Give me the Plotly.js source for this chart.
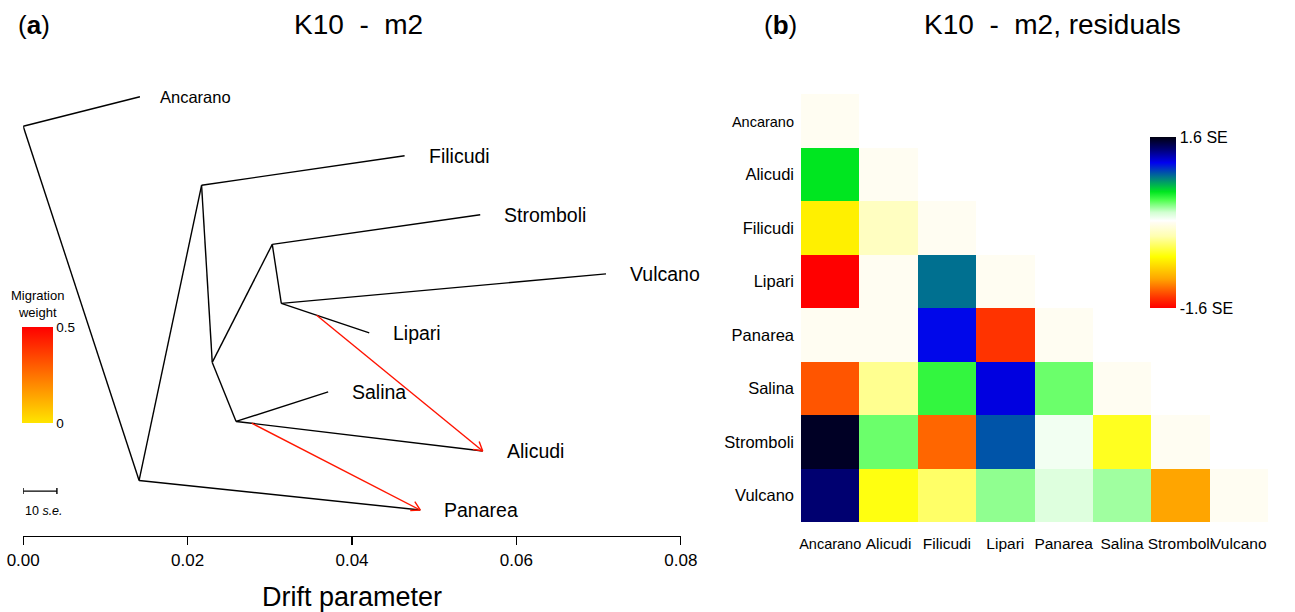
<!DOCTYPE html>
<html><head><meta charset="utf-8">
<script src="https://cdn.plot.ly/plotly-3.0.1.min.js"></script>
<style>html,body{margin:0;padding:0;background:#fff}#chart{width:1295px;height:612px}</style>
</head><body><div id="chart"></div>
<script>
// ---------- Panel (a): TreeMix tree ----------
const tipNames = ['Ancarano','Filicudi','Stromboli','Vulcano','Lipari','Salina','Alicudi','Panarea'];
const tipDrift = [0.0142, 0.0464, 0.0556, 0.0709, 0.0421, 0.0371, 0.0559, 0.0483];
const tipY     = [8, 7, 6, 5, 4, 3, 2, 1];
const nodeNames = ['root','n1','n2','n3','n4','n5','n6'];
const nodeDrift = [0.0000, 0.0141, 0.0217, 0.0230, 0.0303, 0.0314, 0.0259];
const nodeY     = [7.5, 1.5, 6.5, 3.5, 5.5, 4.5, 2.5];
const edgeFrom = ['root','root','n1','n1','n2','n2','n3','n3','n4','n4','n5','n5','n6','n6'];
const edgeTo   = ['Ancarano','n1','Panarea','n2','Filicudi','n3','n4','n6','Stromboli','n5','Vulcano','Lipari','Salina','Alicudi'];
const migSrcDrift = [0.0357, 0.0278];
const migSrcY     = [4.30, 2.47];
const migTo       = ['Alicudi','Panarea'];
const migWeight   = [0.46, 0.45];
const migWeightRange = [0, 0.5];
const driftTicks = [0, 0.02, 0.04, 0.06, 0.08];
const scaleBarLen = 0.0041;   // 10 s.e.

// ---------- Panel (b): residuals ----------
const popCats = ['Ancarano','Alicudi','Filicudi','Lipari','Panarea','Salina','Stromboli','Vulcano'];
const resAncarano  = [0];
const resAlicudi   = [0.576, 0];
const resFilicudi  = [-0.71, -0.19, 0];
const resLipari    = [-1.60, 0, 0.864, 0];
const resPanarea   = [0, 0, 1.104, -1.408, 0];
const resSalina    = [-1.30, -0.326, 0.474, 1.152, 0.368, 0];
const resStromboli = [1.552, 0.368, -1.248, 0.928, 0.077, -0.57, 0];
const resVulcano   = [1.376, -0.605, -0.416, 0.304, 0.144, 0.276, -1.056, 0];
const resRange = [-1.6, 1.6];
const resTickText = ['-1.6 SE', '1.6 SE'];

// ---------- geometry ----------
const W = 1295, H = 612;
const M = {l:0, r:0, t:80, b:76};
const plotH = H - M.t - M.b;
const treeXDomain = [23.2/W, 680.8/W];
const treeXRange = [0, 0.08];
const treeYRange = [0.5596, 8.2835];
const heatXDomain = [801/W, 1268/W];
const heatYDomain = [(H - M.b - 522)/plotH, (H - M.b - 94)/plotH];
const pxX = W*(treeXDomain[1]-treeXDomain[0])/(treeXRange[1]-treeXRange[0]);
const pxY = plotH/(treeYRange[1]-treeYRange[0]);
const py = p => (H - M.b - p)/plotH;   // pixel row -> paper y
const FONT = 'Liberation Sans, Arial, Helvetica, sans-serif';

const pos = {};
tipNames.forEach((n,i)=>pos[n]={x:tipDrift[i], y:tipY[i]});
nodeNames.forEach((n,i)=>pos[n]={x:nodeDrift[i], y:nodeY[i]});

const ex=[], ey=[];
edgeFrom.forEach((f,i)=>{const a=pos[f], b=pos[edgeTo[i]]; ex.push(a.x,b.x,null); ey.push(a.y,b.y,null);});

function lerpColor(c0,c1,t){const p=s=>[1,3,5].map(k=>parseInt(s.substr(k,2),16));const a=p(c0),b=p(c1);
  return 'rgb('+a.map((v,i)=>Math.round(v+(b[i]-v)*t)).join(',')+')';}
const migLow = '#FFE500', migHigh = '#FF0000';

const traces = [{
  type:'scatter', mode:'lines', x:ex, y:ey, xaxis:'x', yaxis:'y',
  line:{color:'#000', width:1.4}, hoverinfo:'skip', showlegend:false
}];

migTo.forEach((t,i)=>{
  const x0=migSrcDrift[i], y0=migSrcY[i], x1=pos[t].x, y1=pos[t].y;
  const ang=Math.atan2((y1-y0)*pxY,(x1-x0)*pxX), L=10, phi=Math.PI/6;
  const h1=[x1+L*Math.cos(ang+Math.PI-phi)/pxX, y1+L*Math.sin(ang+Math.PI-phi)/pxY];
  const h2=[x1+L*Math.cos(ang+Math.PI+phi)/pxX, y1+L*Math.sin(ang+Math.PI+phi)/pxY];
  const tw=(migWeight[i]-migWeightRange[0])/(migWeightRange[1]-migWeightRange[0]);
  traces.push({type:'scatter', mode:'lines', xaxis:'x', yaxis:'y',
    x:[x0,x1,null,h1[0],x1,h2[0]], y:[y0,y1,null,h1[1],y1,h2[1]],
    line:{color:lerpColor(migLow,migHigh,tw), width:1.4}, hoverinfo:'skip', showlegend:false});
});

// scale bar
const sbY = 1.32, sbTick = 3/pxY;
traces.push({type:'scatter', mode:'lines', xaxis:'x', yaxis:'y',
  x:[0,scaleBarLen,null,0,0,null,scaleBarLen,scaleBarLen],
  y:[sbY,sbY,null,sbY-sbTick,sbY+sbTick,null,sbY-sbTick,sbY+sbTick],
  line:{color:'#000', width:1.4}, hoverinfo:'skip', showlegend:false});

// migration weight colour bar (dummy points outside range)
traces.push({type:'scatter', mode:'markers', xaxis:'x', yaxis:'y', x:[-1,-1], y:[-1,-1],
  marker:{color:migWeightRange, cmin:migWeightRange[0], cmax:migWeightRange[1],
    colorscale:[[0,migLow],[1,migHigh]], showscale:true,
    colorbar:{x:22/W, xanchor:'left', y:py(375), yanchor:'middle',
      thickness:31, thicknessmode:'pixels', len:96, lenmode:'pixels', xpad:0, ypad:0,
      outlinewidth:0, ticks:'', tickvals:migWeightRange, ticktext:['0','0.5'],
      tickfont:{family:FONT, size:13.5, color:'#000'}}},
  hoverinfo:'skip', showlegend:false});

// heatmap
const rows = [resAncarano,resAlicudi,resFilicudi,resLipari,resPanarea,resSalina,resStromboli,resVulcano];
const z = rows.map(r=>popCats.map((c,j)=> j<r.length ? r[j] : null));
traces.push({type:'heatmap', xaxis:'x2', yaxis:'y2', x:popCats, y:popCats, z:z,
  zmin:resRange[0], zmax:resRange[1], zsmooth:false, hoverongaps:false,
  colorscale:[[0,'#FF0000'],[0.06,'#FF3300'],[0.11,'#FF6600'],[0.17,'#FFA500'],[0.30,'#FFFF00'],
    [0.42,'#FFFFB0'],[0.50,'#FFFDF2'],[0.51,'#FFFFFF'],[0.56,'#D0FFD0'],[0.63,'#50FF50'],
    [0.68,'#00E620'],[0.77,'#007090'],[0.85,'#0000F0'],[0.93,'#000070'],[1,'#000010']],
  colorbar:{x:1150/W, xanchor:'left', y:py(222.5), yanchor:'middle',
    thickness:26, thicknessmode:'pixels', len:171, lenmode:'pixels', xpad:0, ypad:0,
    outlinewidth:0, ticks:'', tickvals:resRange, ticktext:resTickText,
    tickfont:{family:FONT, size:16, color:'#000'}},
  showscale:true});

const catText = popCats.map(c=> c==='Ancarano' ? '<span style="font-size:14.5px">'+c+'</span>' : c);

const annotations = tipNames.map((n,i)=>({xref:'x', yref:'y', x:tipDrift[i], y:tipY[i],
  text: n==='Ancarano' ? '<span style="font-size:16.5px">'+n+'</span>' : n,
  xanchor:'left', yanchor:'middle', xshift: n==='Ancarano' ? 18 : 22, showarrow:false,
  font:{family:FONT, size:19.5, color:'#000'}}));
annotations.push(
  {xref:'x', yref:'y', x:0, y:0.98, text:'10 <i>s.e.</i>', xanchor:'left', yanchor:'middle', showarrow:false,
   font:{family:FONT, size:12.5, color:'#000'}},
  {xref:'paper', yref:'paper', x:37.5/W, y:py(304), text:'Migration<br>weight', xanchor:'center', yanchor:'middle',
   showarrow:false, font:{family:FONT, size:13, color:'#000'}},
  {xref:'paper', yref:'paper', x:34/W, y:py(25), text:'(<b>a</b>)', showarrow:false,
   xanchor:'center', yanchor:'middle', font:{family:FONT, size:26, color:'#000'}},
  {xref:'paper', yref:'paper', x:358/W, y:py(25), text:'K10  -  m2', showarrow:false,
   xanchor:'center', yanchor:'middle', font:{family:FONT, size:28, color:'#000'}},
  {xref:'paper', yref:'paper', x:780/W, y:py(25), text:'(<b>b</b>)', showarrow:false,
   xanchor:'center', yanchor:'middle', font:{family:FONT, size:26, color:'#000'}},
  {xref:'paper', yref:'paper', x:1052/W, y:py(25), text:'K10  -  m2, residuals', showarrow:false,
   xanchor:'center', yanchor:'middle', font:{family:FONT, size:28, color:'#000'}}
);

const layout = {
  width:W, height:H, margin:M, paper_bgcolor:'#fff', plot_bgcolor:'#fff', showlegend:false,
  font:{family:FONT, color:'#000'},
  xaxis:{domain:treeXDomain, range:treeXRange, anchor:'y', showgrid:false, zeroline:false,
    showline:true, linecolor:'#000', linewidth:1.4, ticks:'outside', ticklen:8, tickwidth:1.4, tickcolor:'#000',
    tickvals:driftTicks, ticktext:driftTicks.map(v=>v.toFixed(2)), tickfont:{size:17},
    title:{text:'Drift parameter', font:{size:27}, standoff:18}, fixedrange:true},
  yaxis:{domain:[0,1], range:treeYRange, anchor:'x', visible:false, fixedrange:true},
  xaxis2:{domain:heatXDomain, anchor:'y2', type:'category', categoryorder:'array', categoryarray:popCats,
    tickvals:popCats, ticktext:catText, tickangle:0, showgrid:false, zeroline:false, showline:false, ticks:'',
    tickfont:{size:15.5}, ticklabelstandoff:10, fixedrange:true},
  yaxis2:{domain:heatYDomain, anchor:'x2', type:'category', categoryorder:'array', categoryarray:popCats,
    autorange:'reversed', tickvals:popCats, ticktext:catText, showgrid:false, zeroline:false, showline:false,
    ticks:'', tickfont:{size:16.5}, ticklabelstandoff:6, fixedrange:true},
  annotations:annotations
};
Plotly.newPlot('chart', traces, layout, {displayModeBar:false, staticPlot:true});
</script></body></html>
